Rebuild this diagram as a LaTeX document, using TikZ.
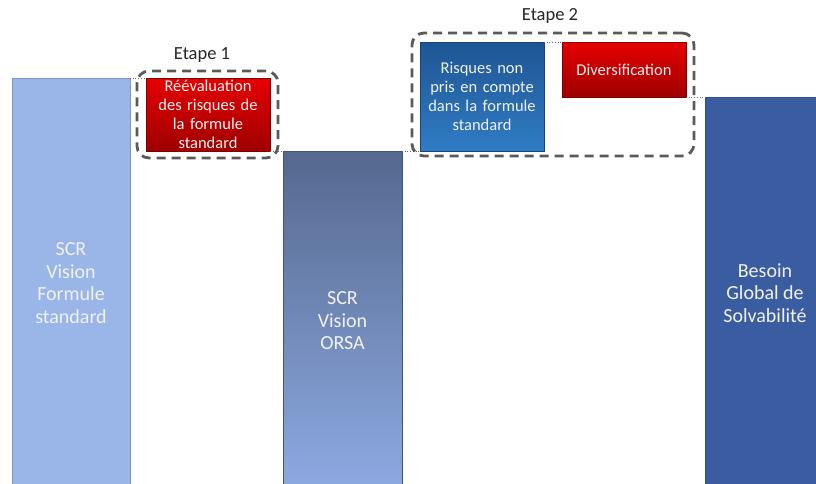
\documentclass[tikz,border=0pt]{standalone}
\usepackage{fontspec}
\setmainfont{Carlito}
\definecolor{barA}{HTML}{9AB5E8}
\definecolor{barAedge}{HTML}{7D97C9}
\definecolor{barBtop}{HTML}{55688E}
\definecolor{barBbot}{HTML}{8DAAE2}
\definecolor{barC}{HTML}{3A5DA2}
\definecolor{redtop}{HTML}{E60000}
\definecolor{redbot}{HTML}{9E0000}
\definecolor{bluetop}{HTML}{1F5594}
\definecolor{bluebot}{HTML}{2F7CC4}
\definecolor{dashgray}{HTML}{5A5A5A}
\definecolor{txtw}{HTML}{F2F2F2}
\tikzset{
  bar/.style={anchor=north west, inner sep=0pt, outer sep=0pt, align=center, text=txtw,
    font=\fontsize{20}{22.5}\selectfont},
  box/.style={anchor=north west, inner sep=0pt, outer sep=0pt, align=center, text=txtw,
    font=\fontsize{16.5}{19}\selectfont},
  redbox/.style={box, top color=redtop, bottom color=redbot, draw=redbot!80!black, line width=0.8pt},
  dashbox/.style={anchor=north west, draw=dashgray, line width=2.8pt, dash pattern=on 9pt off 6pt,
    rounded corners=12pt, inner sep=0pt, outer sep=0pt},
  link/.style={draw=black!60, line width=0.7pt, dotted},
  etape/.style={font=\fontsize{18.5}{21}\selectfont, text=black!85}
}
\begin{document}
\begin{tikzpicture}[x=1pt,y=-1pt]
\useasboundingbox (0,0) rectangle (816,483);
\clip (0,0) rectangle (816,483);
\fill[white] (0,0) rectangle (816,483);
% bars
\node (b1) [bar, fill=barA, draw=barAedge, line width=1pt, minimum width=118pt, minimum height=410pt] at (12,78)
  {SCR\\Vision\\Formule\\standard};
\node (b2) [bar, top color=barBtop, bottom color=barBbot, draw=barBtop!80!black, line width=1pt,
  minimum width=119pt, minimum height=340pt] at (283,151)
  {SCR\\Vision\\ORSA};
\node (b3) [bar, fill=barC, draw=barC!85!black, line width=1pt, minimum width=120pt, minimum height=392pt] at (705,97)
  {Besoin\\Global de\\Solvabilité};
% step boxes
\node (r1) [redbox, minimum width=124pt, minimum height=73pt, text width=120pt] at (146,78)
  {Réévaluation\\des risques de\\la formule\\standard};
\node (rb) [box, top color=bluetop, bottom color=bluebot, draw=bluetop!80!black, line width=0.8pt,
  minimum width=124pt, minimum height=109pt, text width=120pt] at (420,42)
  {Risques non\\pris en compte\\dans la formule\\standard};
\node (r2) [redbox, minimum width=124pt, minimum height=55pt] at (562,42) {Diversification};
% dotted links
\draw[link] (b1.north east) -- (r1.north west);
\draw[link] (r1.south east) -- (b2.north west);
\draw[link] (b2.north east) -- (rb.south west);
\draw[link] (rb.north east) -- (r2.north west);
\draw[link] (r2.south east) -- (b3.north west);
% dashed groups
\node (g1) [dashbox, minimum width=141pt, minimum height=87pt] at (137,71) {};
\node (g2) [dashbox, minimum width=282pt, minimum height=123pt] at (412,33) {};
\node (e1) [etape] at (202,55) {Etape 1};
\node (e2) [etape] at (550,16) {Etape 2};
\end{tikzpicture}
\end{document}
